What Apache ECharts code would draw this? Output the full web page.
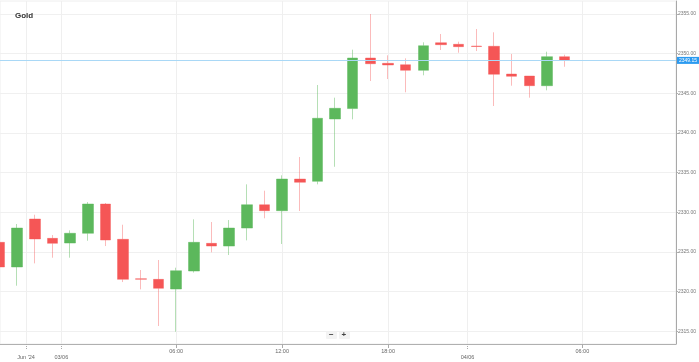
<!DOCTYPE html>
<html>
<head>
<meta charset="utf-8">
<script src="https://cdn.jsdelivr.net/npm/echarts@6/dist/echarts.min.js"></script>
<style>
html,body{margin:0;padding:0;background:#fff;}
#chart{width:699px;height:362px;}
</style>
</head>
<body>
<div id="chart"></div>
<script>
// Hourly candle index (position along the time axis)
const candleIndex = [0,1,2,3,4,5,6,7,8,9,10,11,12,13,14,15,16,17,18,19,20,21,22,23,24,25,26,27,28,29,30,31,32];
const opens  = [2326.21,2323.10,2329.15,2326.71,2326.12,2327.35,2331.04,2326.59,2321.62,2321.54,2320.32,2322.59,2326.08,2325.74,2328.01,2330.95,2330.20,2334.19,2333.90,2341.76,2343.08,2349.45,2348.78,2348.61,2347.90,2351.38,2351.18,2350.96,2350.93,2347.43,2347.18,2345.96,2349.62];
const closes = [2323.10,2328.01,2326.63,2326.08,2327.35,2331.04,2326.50,2321.54,2321.55,2320.41,2322.63,2326.21,2325.74,2328.01,2330.95,2330.20,2334.19,2333.78,2341.85,2343.11,2349.45,2348.73,2348.57,2347.90,2351.00,2351.13,2350.88,2350.90,2347.40,2347.14,2345.96,2349.62,2349.15];
const lows   = [2322.80,2320.74,2323.56,2324.27,2324.27,2326.41,2325.74,2321.20,2320.28,2315.66,2314.94,2322.40,2324.95,2324.61,2326.46,2329.24,2326.00,2330.16,2333.52,2335.74,2341.72,2346.55,2346.80,2345.13,2347.27,2350.46,2350.12,2350.33,2343.40,2345.96,2344.45,2345.38,2348.35];
const highs  = [2326.50,2328.52,2329.69,2327.13,2327.72,2331.29,2331.17,2328.43,2322.72,2323.98,2323.01,2329.11,2328.77,2329.02,2333.52,2332.72,2334.66,2336.97,2346.05,2344.45,2350.50,2355.00,2349.79,2349.41,2351.43,2352.48,2351.51,2353.11,2352.69,2349.96,2347.18,2350.25,2349.87];

// Axis ticks
const hourTickPos = [10, 16, 22, 33];
const hourTickLabels = ['06:00', '12:00', '18:00', '06:00'];
const dayTickPos = [1.5, 3.5, 26.5];
const dayTickLabels = ["Jun '24", '03/06', '04/06'];
const priceTicks = [2315, 2320, 2325, 2330, 2335, 2340, 2345, 2350, 2355];
const lastPrice = 2349.15;

const candleData = candleIndex.map((x, i) => [x, opens[i], closes[i], lows[i], highs[i]]);

function labelFor(posArr, labArr) {
  return function (v) {
    for (let i = 0; i < posArr.length; i++) {
      if (Math.abs(posArr[i] - v) < 1e-6) return labArr[i];
    }
    return '';
  };
}

const XMIN = 0.026, XMAX = 38.30;
const font = 'Liberation Sans, Arial, sans-serif';

const chart = echarts.init(document.getElementById('chart'), null, {renderer: 'canvas'});
chart.setOption({
  animation: false,
  backgroundColor: '#ffffff',
  title: {
    text: 'Gold', left: 10, top: 7,
    textStyle: {fontSize: 8, fontWeight: 'bold', color: '#333', fontFamily: font}
  },
  grid: {left: 0, right: 23, top: 1, bottom: 18, containLabel: false,
         show: true, borderColor: '#eeeeee', borderWidth: 1},
  xAxis: [
    {
      type: 'value', min: XMIN, max: XMAX, position: 'bottom',
      axisLine: {show: true, onZero: false, lineStyle: {color: '#b0b0b0', width: 1}},
      axisTick: {show: true, length: 4, customValues: hourTickPos, lineStyle: {color: '#aaa'}},
      splitLine: {show: true, customValues: hourTickPos, lineStyle: {color: '#efefef', width: 1}},
      axisLabel: {customValues: hourTickPos, formatter: labelFor(hourTickPos, hourTickLabels),
                  fontSize: 5.5, color: '#666', margin: 4, fontFamily: font}
    },
    {
      type: 'value', min: XMIN, max: XMAX, position: 'bottom',
      axisLine: {show: false, onZero: false},
      axisTick: {show: true, length: 6, customValues: dayTickPos, lineStyle: {color: '#aaa', type: 'dotted'}},
      splitLine: {show: true, customValues: dayTickPos, lineStyle: {color: '#efefef', width: 1}},
      axisLabel: {customValues: dayTickPos, formatter: labelFor(dayTickPos, dayTickLabels),
                  fontSize: 5.5, color: '#666', margin: 10.5, fontFamily: font}
    }
  ],
  yAxis: {
    type: 'value', position: 'right', min: 2313.39, max: 2356.64, scale: true,
    axisLine: {show: true, lineStyle: {color: '#a8a8a8', width: 1}},
    axisTick: {show: true, length: 2, customValues: priceTicks, lineStyle: {color: '#aaa'}},
    splitLine: {show: true, customValues: priceTicks, lineStyle: {color: '#f0f0f0', width: 1}},
    axisLabel: {customValues: priceTicks, formatter: v => v.toFixed(2),
                fontSize: 5, color: '#777', margin: 2, fontFamily: font}
  },
  graphic: [
    {type: 'rect', left: 326, top: 331, shape: {width: 11, height: 8, r: 1}, style: {fill: '#f3f3f3'}},
    {type: 'rect', left: 339, top: 331, shape: {width: 11, height: 8, r: 1}, style: {fill: '#f3f3f3'}},
    {type: 'text', left: 329, top: 330.5, style: {text: '−', fontSize: 8, fontWeight: 'bold', fill: '#444', fontFamily: font}},
    {type: 'text', left: 341.5, top: 330.5, style: {text: '+', fontSize: 8, fontWeight: 'bold', fill: '#444', fontFamily: font}}
  ],
  series: [{
    type: 'candlestick',
    xAxisIndex: 0,
    data: candleData,
    encode: {x: 0, y: [1, 2, 3, 4]},
    barWidth: 11,
    clip: true,
    itemStyle: {
      color: '#5cb85c',
      color0: '#f55656',
      borderColor: 'rgba(92,184,92,0.45)',
      borderColor0: 'rgba(245,86,86,0.4)',
      borderWidth: 1
    },
    markLine: {
      silent: true,
      symbol: ['none', 'none'],
      animation: false,
      lineStyle: {color: '#a9d8f6', width: 1, type: 'solid'},
      label: {
        show: true, position: 'end', distance: 1,
        formatter: lastPrice.toFixed(2),
        backgroundColor: '#2b9af0', color: '#fff', fontSize: 5,
        padding: [1, 2], fontFamily: font
      },
      data: [{yAxis: lastPrice}]
    }
  }]
});
</script>
</body>
</html>
